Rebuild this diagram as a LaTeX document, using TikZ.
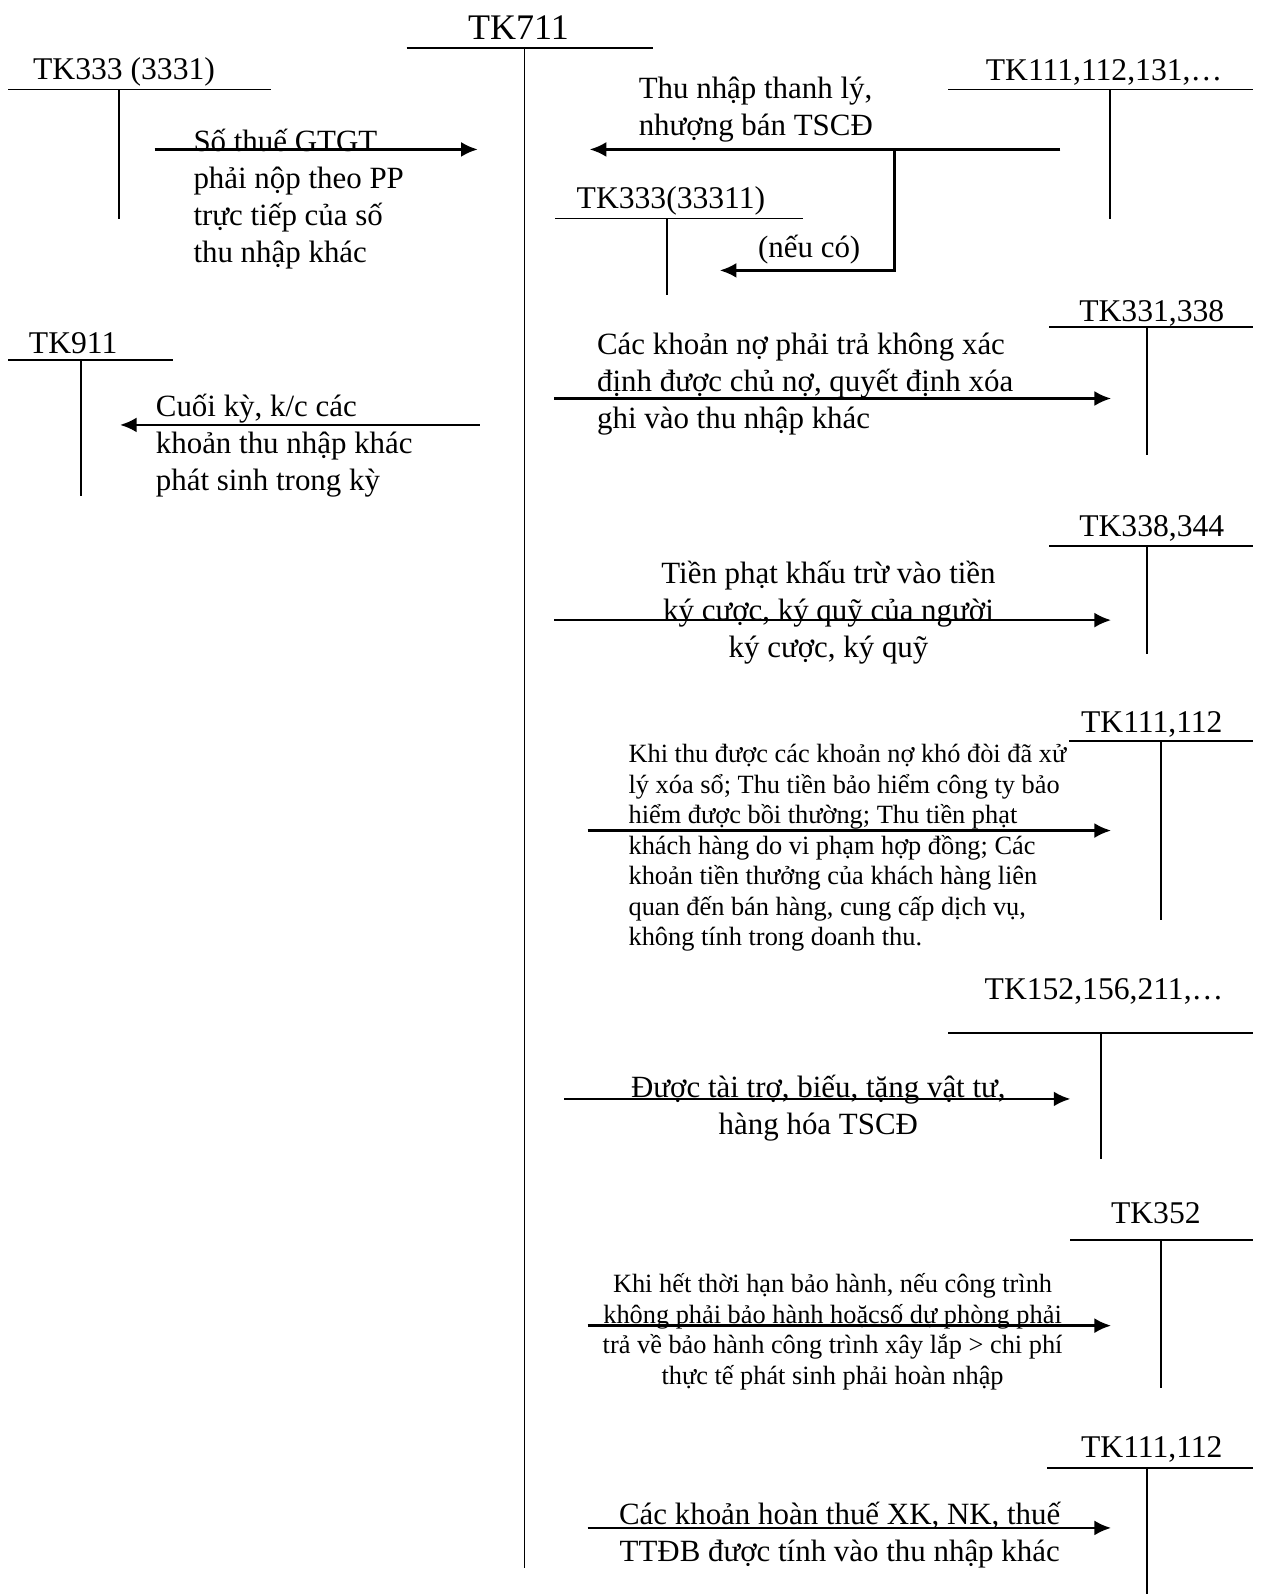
\documentclass[tikz,border=0pt]{standalone}
\usepackage{fontspec}
\setmainfont{Liberation Serif}
\usetikzlibrary{arrows.meta}
\tikzset{
  tk/.style={inner sep=0pt, font=\fontsize{18}{21}\selectfont},
  tline/.style={line width=1.05pt},
  arr/.style={line width=1.5pt, -{Latex[length=9.5pt,width=8.5pt]}},
  txt/.style={inner sep=0pt, font=\fontsize{17.6}{21.1}\selectfont},
  small/.style={inner sep=0pt, font=\fontsize{15}{17.4}\selectfont}
}

\begin{document}
\begin{tikzpicture}[x=0.02034cm, y=-0.02034cm]
\useasboundingbox (0,0) rectangle (1241,1568);

%TK711:
 \node[tk, font=\fontsize{20.5}{24}\selectfont] (tk711) at (510,27) {TK711};
 \draw[tline] (400,47) -- (642,47);
 \draw[tline] (516,47) -- (516,1542);

%accounts on the left
 \node[tk] (tk3331) at (122,71) {TK333 (3331)};
 \draw[tline] (8,88) -- (267,88);
 \draw[tline] (117,88) -- (117,215);

 \node[tk] (tk911) at (72,338) {TK911};
 \draw[tline] (8,354) -- (170,354);
 \draw[tline] (80,354) -- (80,488);

%accounts on the right
 \node[tk] (tk131) at (1086,71) {TK111,112,131,…};
 \draw[tline] (933,88) -- (1233,88);
 \draw[tline] (1092,88) -- (1092,215);

 \node[tk] (tk33311) at (660,198) {TK333(33311)};
 \draw[tline] (546,215) -- (790,215);
 \draw[tline] (656,215) -- (656,290);

 \foreach \n/\lab/\lx/\ly/\yl/\xl/\xv/\yb in {
   tk331/{TK331,338}/1133/308/322/1032/1128/448,
   tk344/{TK338,344}/1133/520/537/1032/1128/643,
   tk112a/{TK111,112}/1133/713/729/1052/1142/905,
   tk152/{TK152,156,211,…}/1086/975/1016/933/1083/1140,
   tk352/{TK352}/1137/1193/1220/1053/1142/1365,
   tk112b/{TK111,112}/1133/1426/1444/1030/1128/1568}{
  \node[tk] (\n) at (\lx,\ly) {\lab};
  \draw[tline] (\xl,\yl) -- (1233,\yl);
  \draw[tline] (\xv,\yl) -- (\xv,\yb);
 }

%entries
 \coordinate (a1s) at (152,147); \coordinate (a1e) at (470,147);
 \draw[arr] (a1s) -- (a1e);
 \node[txt, anchor=west, align=left] (t1) at (190,196)
   {Số thuế GTGT\\phải nộp theo PP\\trực tiếp của số\\thu nhập khác};

 \coordinate (a2s) at (1043,147); \coordinate (a2e) at (580,147);
 \coordinate (a2b) at (880,147); \coordinate (a3e) at (708,266);
 \draw[arr] (a2s) -- (a2e);
 \draw[arr] (a2b) |- (a3e);
 \node[txt, anchor=west, align=left] (t2) at (628,108)
   {Thu nhập thanh lý,\\nhượng bán TSCĐ};
 \node[txt] (t3) at (796,246) {(nếu có)};

 \coordinate (a4s) at (472,418); \coordinate (a4e) at (118,418);
 \draw[arr] (a4s) -- (a4e);
 \node[txt, anchor=west, align=left] (t4) at (153,438)
   {Cuối kỳ, k/c các\\khoản thu nhập khác\\phát sinh trong kỳ};

 \coordinate (a5s) at (545,392); \coordinate (a5e) at (1093,392);
 \draw[arr] (a5s) -- (a5e);
 \node[txt, anchor=west, align=left] (t5) at (587,378)
   {Các khoản nợ phải trả không xác\\định được chủ nợ, quyết định xóa\\ghi vào thu nhập khác};

 \coordinate (a6s) at (545,610); \coordinate (a6e) at (1093,610);
 \draw[arr] (a6s) -- (a6e);
 \node[txt, align=center] (t6) at (815,603)
   {Tiền phạt khấu trừ vào tiền\\ký cược, ký quỹ của người\\ký cược, ký quỹ};

 \coordinate (a7s) at (578,817); \coordinate (a7e) at (1093,817);
 \draw[arr] (a7s) -- (a7e);
 \node[small, anchor=west, align=left] (t7) at (618,834)
   {Khi thu được các khoản nợ khó đòi đã xử\\lý xóa sổ; Thu tiền bảo hiểm công ty bảo\\hiểm được bồi thường; Thu tiền phạt\\khách hàng do vi phạm hợp đồng; Các\\khoản tiền thưởng của khách hàng liên\\quan đến bán hàng, cung cấp dịch vụ,\\không tính trong doanh thu.};

 \coordinate (a8s) at (555,1081); \coordinate (a8e) at (1053,1081);
 \draw[arr] (a8s) -- (a8e);
 \node[txt, align=center] (t8) at (805,1090)
   {Được tài trợ, biếu, tặng vật tư,\\hàng hóa TSCĐ};

 \coordinate (a9s) at (578,1304); \coordinate (a9e) at (1093,1304);
 \draw[arr] (a9s) -- (a9e);
 \node[small, align=center] (t9) at (819,1310)
   {Khi hết thời hạn bảo hành, nếu công trình\\không phải bảo hành hoặcsố dự phòng phải\\trả về bảo hành công trình xây lắp > chi phí\\thực tế phát sinh phải hoàn nhập};

 \coordinate (a10s) at (578,1503); \coordinate (a10e) at (1093,1503);
 \draw[arr] (a10s) -- (a10e);
 \node[txt, align=center] (t10) at (826,1510)
   {Các khoản hoàn thuế XK, NK, thuế\\TTĐB được tính vào thu nhập khác};
\end{tikzpicture}
\end{document}
